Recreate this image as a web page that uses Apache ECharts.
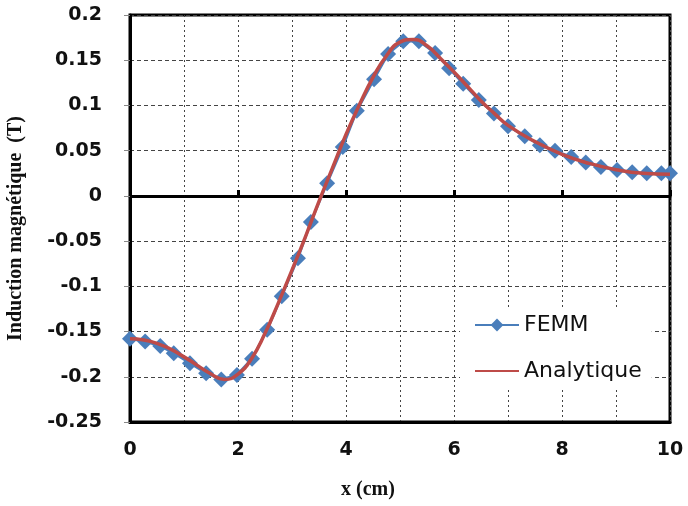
<!DOCTYPE html>
<html>
<head>
<meta charset="utf-8">
<script src="https://cdn.jsdelivr.net/npm/echarts@6/dist/echarts.min.js"></script>
<style>
  html, body { margin: 0; padding: 0; background: #fff; }
  #main { width: 688px; height: 506px; }
</style>
</head>
<body>
<div id="main"></div>
<script>
// FEMM - points
var femmX = [0, 0.28, 0.56, 0.81, 1.11, 1.41, 1.69, 1.98, 2.26, 2.54, 2.81, 3.11, 3.35, 3.65,
    3.94, 4.2, 4.52, 4.78, 5.06, 5.35, 5.65, 5.91, 6.17, 6.46, 6.74, 7.0, 7.31, 7.59,
    7.87, 8.17, 8.44, 8.72, 9.02, 9.3, 9.57, 9.84, 10];
var femmY = [-0.158, -0.161, -0.166, -0.174, -0.185, -0.196, -0.203, -0.198, -0.180, -0.148,
    -0.111, -0.069, -0.029, 0.014, 0.054, 0.094, 0.129, 0.157, 0.171, 0.171, 0.158, 0.141,
    0.124, 0.106, 0.091, 0.077, 0.066, 0.056, 0.050, 0.043, 0.037, 0.032, 0.0285, 0.026,
    0.025, 0.025, 0.025];

// Analytique - courbe
var anaX = [0, 0.5, 1, 1.5, 1.75, 2, 2.25, 2.5, 2.75, 3, 3.25, 3.5, 3.75, 4, 4.25, 4.5,
    4.75, 5, 5.25, 5.5, 5.75, 6, 6.25, 6.5, 6.75, 7, 7.5, 8, 8.5, 9, 9.5, 10];
var anaY = [-0.158, -0.163, -0.178, -0.197, -0.203, -0.197, -0.180, -0.152, -0.118, -0.082,
    -0.045, -0.006, 0.031, 0.068, 0.101, 0.131, 0.155, 0.170, 0.173, 0.166, 0.152, 0.137,
    0.121, 0.105, 0.091, 0.078, 0.060, 0.046, 0.036, 0.029, 0.025, 0.024];

var xTicks = [0, 2, 4, 6, 8, 10];

function pairs(xs, ys) {
    return xs.map(function (x, i) { return [x, ys[i]]; });
}

var labelFont = { fontFamily: 'DejaVu Sans', fontWeight: 'bold', fontSize: 19, color: '#111' };
var nameFont = { fontFamily: 'Liberation Serif', fontWeight: 'bold', fontSize: 20, color: '#111' };

var option = {
    animation: false,
    backgroundColor: '#fff',
    grid: {
        left: 130, right: 18, top: 15, bottom: 84,
        outerBoundsMode: 'none',
        containLabel: false,
        show: true, borderColor: '#000', borderWidth: 3
    },
    legend: {
        orient: 'vertical',
        left: 460, top: 308,
        itemWidth: 44, itemHeight: 16, itemGap: 24,
        backgroundColor: '#fff',
        padding: [6, 10, 6, 14],
        textStyle: { fontFamily: 'DejaVu Sans', fontSize: 22, color: '#111' },
        data: [{ name: 'FEMM' }, { name: 'Analytique', itemStyle: { opacity: 0 } }]
    },
    xAxis: [{
        type: 'value', min: 0, max: 10, interval: 1,
        axisLine: { onZero: false, lineStyle: { color: '#000', width: 3 } },
        axisTick: { show: false },
        axisLabel: Object.assign({
            margin: 19,
            formatter: function (v) { return xTicks.indexOf(v) >= 0 ? String(v) : ''; }
        }, labelFont),
        splitLine: { show: true, lineStyle: { color: '#444', type: [2, 3], width: 1 } },
        name: 'x (cm)', nameLocation: 'middle', nameGap: 58,
        nameTextStyle: Object.assign({ padding: [0, 64, 0, 0] }, nameFont)
    }, {
        type: 'value', min: 0, max: 10, interval: 2,
        axisLine: { onZero: true, lineStyle: { color: '#000', width: 3 } },
        axisTick: { show: true, length: 6, lineStyle: { color: '#000', width: 3 } },
        axisLabel: { show: false },
        splitLine: { show: false }
    }],
    yAxis: {
        type: 'value', min: -0.25, max: 0.2, interval: 0.05,
        axisLine: { show: true, onZero: false, lineStyle: { color: '#000', width: 3 } },
        axisTick: { show: true, length: 6, lineStyle: { color: '#888', width: 1 } },
        axisLabel: Object.assign({ margin: 28 }, labelFont),
        splitLine: { show: true, lineStyle: { color: '#444', type: [4, 3], width: 1 } },
        name: 'Induction magnétique  (T)', nameLocation: 'middle', nameGap: 104,
        nameTextStyle: Object.assign({ padding: [0, 20, 0, 0] }, nameFont)
    },
    series: [{
        name: 'FEMM',
        type: 'line',
        z: 2,
        data: pairs(femmX, femmY),
        symbol: 'diamond',
        symbolSize: 16,
        itemStyle: { color: '#4a7ebb' },
        lineStyle: { color: '#4a7ebb', width: 2.5 }
    }, {
        name: 'Analytique',
        type: 'line',
        z: 5,
        data: pairs(anaX, anaY),
        smooth: true,
        showSymbol: false,
        itemStyle: { color: '#be4b48' },
        lineStyle: { color: '#be4b48', width: 3.5 }
    }]
};

var myChart = echarts.init(document.getElementById('main'));
myChart.setOption(option);
</script>
</body>
</html>
